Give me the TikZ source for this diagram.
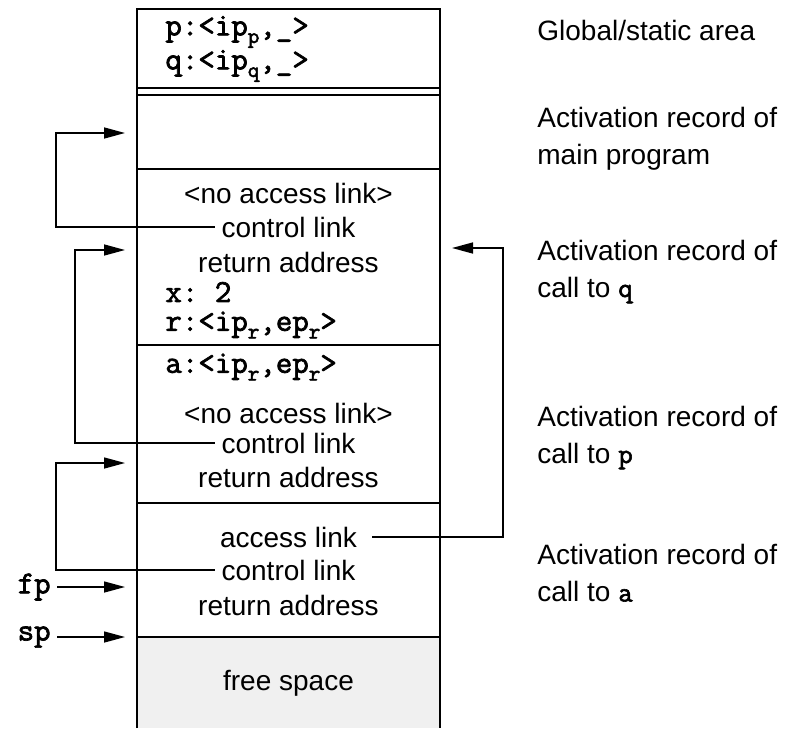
\documentclass[tikz,border=0pt]{standalone}
\usepackage{fontspec}
\setmainfont{Liberation Sans}
\newfontfamily\codefont{Latin Modern Mono}[FakeBold=2.2]
\newcommand{\lowsub}[1]{\raisebox{-0.55ex}{\fontsize{11}{11}\selectfont #1}}
\usetikzlibrary{arrows.meta, positioning, calc}

\begin{document}
\begin{tikzpicture}[
      x=0.5pt, y=-0.5pt,
      every node/.style={font=\fontsize{14}{18.5}\selectfont},
      cell/.style={line width=0.7pt},
      field/.style={anchor=center},
      code/.style={anchor=west, inner sep=0pt, font=\fontsize{16}{19}\selectfont\codefont\frenchspacing},
      reg/.style={anchor=east, inner sep=3pt, font=\fontsize{16}{19}\selectfont\codefont},
      link/.style={draw, line width=0.75pt, -{Triangle[length=10.5pt, width=5.5pt]}},
      caption/.style={anchor=west, align=left, inner sep=0pt}
    ]
    \useasboundingbox (0,0) rectangle (796,728);
    % free space shading
    \fill[gray!12] (137,637) rectangle (440,728);
    % the stack itself
    \draw[cell] (137,728) -- (137,9) -- (440,9) -- (440,728);
    \foreach \y in {88,95,169,345,503,637}
      \draw[cell] (137,\y) -- (440,\y);

    % global/static area
    \node[code] (pvar) at (165,32) {p:<ip\lowsub{p},\_>};
    \node[code] (qvar) at (165,66) {q:<ip\lowsub{q},\_>};

    % frame of q
    \node[field] (noaccQ) at (288.5,193) {<no access link>};
    \node[field] (ctrlQ)  at (288.5,227) {control link};
    \node[field] (retQ)   at (288.5,262) {return address};
    \node[code]  (xvar)   at (165,292) {x: 2};
    \node[code]  (rvar)   at (165,325) {r:<ip\lowsub{r},ep\lowsub{r}>};

    % frame of p
    \node[code]  (avar)   at (165,367) {a:<ip\lowsub{r},ep\lowsub{r}>};
    \node[field] (noaccP) at (288.5,413) {<no access link>};
    \node[field] (ctrlP)  at (288.5,443) {control link};
    \node[field] (retP)   at (288.5,477) {return address};

    % frame of a
    \node[field] (accA)   at (288.5,537) {access link};
    \node[field] (ctrlA)  at (288.5,570) {control link};
    \node[field] (retA)   at (288.5,605) {return address};
    \node[field] (free)   at (288.5,683) {free space};

    % registers
    \node[reg] (fp) at (57,587) {fp};
    \node[reg] (sp) at (57,637) {sp};

    % captions on the right
    \node[caption] (capGlob) at (537,30) {Global/static area};
    \node[caption] (capMain) at (537,138.5) {Activation record of\\main program};
    \node[caption] (capQ) at (537,271.5) {Activation record of\\call to {\codefont q}};
    \node[caption] (capP) at (537,437.5) {Activation record of\\call to {\codefont p}};
    \node[caption] (capA) at (537,573) {Activation record of\\call to {\codefont a}};

    % where the links end
    \coordinate (busA) at (56,0);
    \coordinate (busB) at (75,0);
    \coordinate (busR) at (503,0);
    \coordinate (tipMain) at (125,133);
    \coordinate (tipQ) at (125,250);
    \coordinate (tipP) at (125,463);
    \coordinate (tipFp) at (125,587);
    \coordinate (tipSp) at (125,637);
    \coordinate (tipAcc) at (452,248);

    % control links
    \draw[link] (ctrlQ.west) -- (ctrlQ.west -| busA) |- (tipMain);
    \draw[link] (ctrlP.west) -- (ctrlP.west -| busB) |- (tipQ);
    \draw[link] (ctrlA.west) -- (ctrlA.west -| busA) |- (tipP);
    % access link of a
    \draw[link, shorten <=4pt] (accA.east) -- (accA.east -| busR) |- (tipAcc);
    % frame and stack pointers
    \draw[link] (fp.east) -- (tipFp);
    \draw[link] (sp.east) -- (tipSp);
  \end{tikzpicture}
\end{document}
